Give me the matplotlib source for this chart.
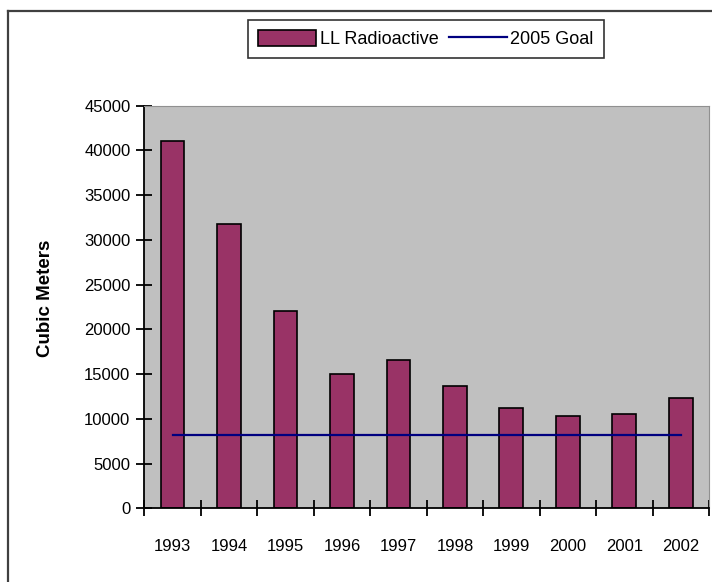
import matplotlib
matplotlib.use("Agg")
import matplotlib.pyplot as plt
from matplotlib.lines import Line2D
import numpy as np

# dados
anos = ['1993', '1994', '1995', '1996', '1997', '1998', '1999', '2000', '2001', '2002']
ll_radioativo = [41000, 31800, 22000, 15000, 16600, 13700, 11200, 10300, 10500, 12300]
meta_2005 = [8200] * len(anos)
ticks_y = list(range(0, 45001, 5000))

plt.rcParams['font.family'] = ['Liberation Sans', 'DejaVu Sans']

fig = plt.figure(figsize=(7.12, 5.82), dpi=100)
ax = fig.add_axes([144.3 / 712, 1 - 508.3 / 582, (709 - 144.3) / 712, (508.3 - 105.7) / 582])

x = np.arange(len(anos))
ax.set_facecolor('#C0C0C0')
barras = ax.bar(x, ll_radioativo, width=0.42, color='#993366', edgecolor='black',
                linewidth=1.2, label='LL Radioactive', zorder=2)
linha, = ax.plot(x, meta_2005, color='#000080', linewidth=1.6, label='2005 Goal', zorder=3)

ax.set_xlim(-0.5, len(anos) - 0.5)
ax.set_ylim(0, 45000)
ax.set_yticks(ticks_y)
ax.set_yticklabels([str(t) for t in ticks_y], fontsize=12)
ax.set_xticks(x)
ax.set_xticklabels(anos, fontsize=12)
ax.set_xticks(np.arange(-0.5, len(anos), 1), minor=True)
ax.tick_params(axis='x', which='major', length=0, pad=22)
ax.tick_params(axis='x', which='minor', direction='inout', length=12, width=1.3)
ax.tick_params(axis='y', direction='inout', length=12, width=1.3, pad=4)

ax.spines['left'].set_linewidth(1.3)
ax.spines['bottom'].set_linewidth(1.3)
ax.spines['top'].set_color('#909090')
ax.spines['right'].set_color('#909090')

fig.text(46 / 712, 1 - 298 / 582, 'Cubic Meters', rotation=90, fontsize=13.5,
         fontweight='bold', ha='center', va='center')

leg = fig.legend(handles=[barras, linha], loc='center', ncol=2,
                 bbox_to_anchor=(426 / 712, 1 - 39 / 582), fontsize=13,
                 frameon=True, fancybox=False, handlelength=3.2, handleheight=1.0,
                 handletextpad=0.2, columnspacing=0.6, borderpad=0.55)
leg.get_frame().set_edgecolor('black')
leg.get_frame().set_linewidth(1.2)

# moldura externa
fig.add_artist(Line2D([8 / 712, 8 / 712], [0, 1 - 11 / 582], color='#404040', linewidth=1.6))
fig.add_artist(Line2D([8 / 712, 1], [1 - 11 / 582, 1 - 11 / 582], color='#404040', linewidth=1.6))

fig.savefig('out.png', dpi=100)
